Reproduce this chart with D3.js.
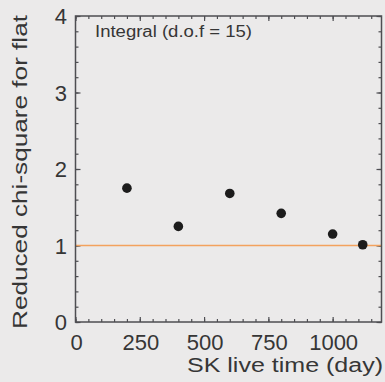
<!DOCTYPE html>
<html>
<head>
<meta charset="utf-8">
<script src="https://cdn.jsdelivr.net/npm/d3@7"></script>
<style>
  html, body { margin: 0; padding: 0; background: #ebeaea; }
  svg { display: block; }
  text { font-family: "Liberation Sans", Arial, Helvetica, sans-serif; fill: #363636; }
</style>
</head>
<body>
<svg id="chart" width="385" height="382"></svg>
<script>
// Data
const liveTimeDays = [200, 400, 600, 800, 1000, 1117];
const reducedChi2 = [1.75, 1.25, 1.68, 1.42, 1.15, 1.01];
const xTickValues = [0, 250, 500, 750, 1000];
const yTickValues = [0, 1, 2, 3, 4];
const referenceLevel = [1];
const annotation = ["Integral (d.o.f = 15)"];
const xTitle = ["SK live time (day)"];
const yTitle = ["Reduced chi-square for flat"];

const svg = d3.select("#chart");
const W = 385, H = 382;
svg.append("rect").attr("width", W).attr("height", H).attr("fill", "#ebeaea");

const x = d3.scaleLinear().domain([0, 1190]).range([75.5, 381.5]);
const y = d3.scaleLinear().domain([0, 4]).range([322, 16]);

const frameColor = "#4e4e52";

// minor & major ticks on all four sides (pointing inward)
function styleAxis(g) {
  g.select(".domain").remove();
  g.selectAll(".tick line").attr("stroke", frameColor).attr("stroke-width", 1.2);
  g.selectAll(".tick text").remove();
}
const xMinor = d3.range(0, 1190, 50);
const yMinor = d3.range(0, 4.001, 0.2);

svg.append("g").attr("transform", `translate(0,${y(0)})`)
  .call(d3.axisBottom(x).tickValues(xMinor).tickSize(-3)).call(styleAxis);
svg.append("g").attr("transform", `translate(0,${y(0)})`)
  .call(d3.axisBottom(x).tickValues(xTickValues).tickSize(-5)).call(styleAxis);
svg.append("g").attr("transform", `translate(0,${y(4)})`)
  .call(d3.axisTop(x).tickValues(xMinor).tickSize(-3)).call(styleAxis);
svg.append("g").attr("transform", `translate(0,${y(4)})`)
  .call(d3.axisTop(x).tickValues(xTickValues).tickSize(-5)).call(styleAxis);
svg.append("g").attr("transform", `translate(${x.range()[0]},0)`)
  .call(d3.axisLeft(y).tickValues(yMinor).tickSize(-3)).call(styleAxis);
svg.append("g").attr("transform", `translate(${x.range()[0]},0)`)
  .call(d3.axisLeft(y).tickValues(yTickValues).tickSize(-5)).call(styleAxis);
svg.append("g").attr("transform", `translate(${x.range()[1]},0)`)
  .call(d3.axisRight(y).tickValues(yMinor).tickSize(-3)).call(styleAxis);
svg.append("g").attr("transform", `translate(${x.range()[1]},0)`)
  .call(d3.axisRight(y).tickValues(yTickValues).tickSize(-5)).call(styleAxis);

// reference line at 1
svg.selectAll(".ref").data(referenceLevel).enter().append("line")
  .attr("x1", x.range()[0]).attr("x2", x.range()[1])
  .attr("y1", d => y(d)).attr("y2", d => y(d))
  .attr("stroke", "#f3a25e").attr("stroke-width", 1.6);

// frame
svg.append("rect")
  .attr("x", x.range()[0]).attr("y", y(4))
  .attr("width", x.range()[1] - x.range()[0]).attr("height", y(0) - y(4))
  .attr("fill", "none").attr("stroke", frameColor).attr("stroke-width", 1.5);

// points
svg.selectAll(".pt").data(liveTimeDays.map((d, i) => [d, reducedChi2[i]]))
  .enter().append("circle")
  .attr("cx", d => x(d[0])).attr("cy", d => y(d[1])).attr("r", 4.8)
  .attr("fill", "#1c1c1c");

// tick labels
svg.selectAll(".xl").data(xTickValues).enter().append("text")
  .attr("x", d => x(d) + 1).attr("y", y(0) + 28)
  .attr("text-anchor", "middle").attr("font-size", 22)
  .text(d => d);
svg.selectAll(".yl").data(yTickValues).enter().append("text")
  .attr("x", 67).attr("y", d => y(d) + 8)
  .attr("text-anchor", "end").attr("font-size", 22)
  .text(d => d);

// annotation
svg.append("text").attr("x", 95).attr("y", 37)
  .attr("font-size", 16).attr("textLength", 157).attr("lengthAdjust", "spacingAndGlyphs")
  .text(annotation[0]);

// axis titles
svg.append("text").attr("x", 383).attr("y", 372)
  .attr("text-anchor", "end").attr("font-size", 20)
  .attr("textLength", 196).attr("lengthAdjust", "spacingAndGlyphs")
  .text(xTitle[0]);
svg.append("text")
  .attr("transform", "translate(27,172) rotate(-90)")
  .attr("text-anchor", "middle").attr("font-size", 21)
  .attr("textLength", 314).attr("lengthAdjust", "spacingAndGlyphs")
  .text(yTitle[0]);
</script>
</body>
</html>
